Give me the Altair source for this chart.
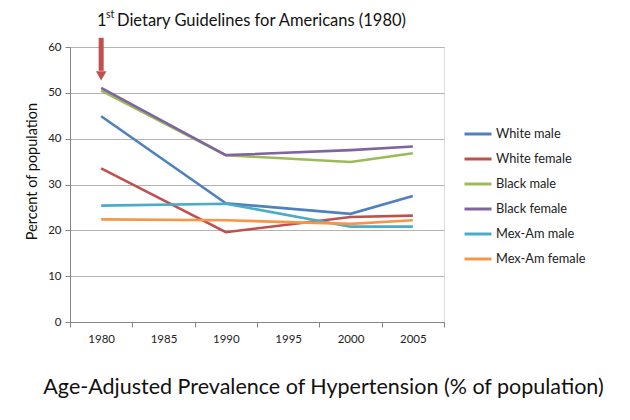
import altair as alt
import pandas as pd

categories = ["1980", "1985", "1990", "1995", "2000", "2005"]
years = ["1980", "1990", "2000", "2005"]
series_names = ["White male", "White female", "Black male", "Black female", "Mex-Am male", "Mex-Am female"]
white_male = [44.9, 25.9, 23.6, 27.5]
white_female = [33.5, 19.6, 22.9, 23.2]
black_male = [50.5, 36.4, 34.9, 36.8]
black_female = [51.1, 36.4, 37.5, 38.3]
mexam_male = [25.4, 25.8, 20.8, 20.8]
mexam_female = [22.4, 22.2, 21.4, 22.2]
colors = ["#4F81BD", "#C0504D", "#9BBB59", "#8064A2", "#4BACC6", "#F79646"]

all_values = [white_male, white_female, black_male, black_female, mexam_male, mexam_female]
rows = []
for name, vals in zip(series_names, all_values):
    for yr, v in zip(years, vals):
        rows.append({"year": yr, "value": v, "series": name})
df = pd.DataFrame(rows)

arrow_df = pd.DataFrame({"year": ["1980"], "top": [62.0], "bottom": [54.8], "tip": [53.7]})

FONT = "Lato"
xscale = alt.Scale(domain=categories, type="band", paddingInner=0, paddingOuter=0)

x_enc = alt.X(
    "year:O",
    scale=xscale,
    axis=alt.Axis(
        title="Age-Adjusted Prevalence of Hypertension (% of population)",
        titleFontSize=21.5, titleFontWeight="normal", titleFont=FONT, titleColor="#111",
        titleX=253, titleY=65, titleBaseline="middle", titleAnchor="middle", titleAlign="center",
        labelAngle=0, labelFontSize=11.5, labelFont=FONT, labelColor="#222", labelPadding=6,
        tickBand="extent", tickSize=5, tickColor="#868686", domainColor="#868686",
        grid=False,
    ),
)

lines = alt.Chart(df).mark_line(strokeWidth=2.6).encode(
    x=x_enc,
    y=alt.Y(
        "value:Q",
        scale=alt.Scale(domain=[0, 60]),
        axis=alt.Axis(
            title="Percent of population", titleFont=FONT, titleFontSize=14.5,
            titleFontWeight="normal", titleColor="#111", titleY=124, titleX=-38,
            titleAlign="center", titleBaseline="middle",
            values=[0, 10, 20, 30, 40, 50, 60], labelFont=FONT, labelFontSize=11.5,
            labelColor="#222", labelPadding=4, tickSize=5, tickColor="#868686",
            domainColor="#868686", gridColor="#B3B3B3", gridWidth=1,
        ),
    ),
    color=alt.Color(
        "series:N",
        scale=alt.Scale(domain=series_names, range=colors),
        sort=series_names,
        legend=alt.Legend(
            title=None, orient="none", legendX=393, legendY=72,
            symbolType="stroke", symbolSize=729, symbolStrokeWidth=3,
            labelFont=FONT, labelFontSize=12.8, labelColor="#222", labelOffset=3,
            rowPadding=3,
        ),
    ),
    detail="series:N",
)

shaft = alt.Chart(arrow_df).mark_rule(color="#C0504D", strokeWidth=5, clip=False).encode(
    x=alt.X("year:O", scale=xscale),
    y="top:Q", y2="bottom:Q",
)
head = alt.Chart(arrow_df).mark_point(
    shape="triangle-down", filled=True, color="#C0504D", size=110, opacity=1, clip=False
).encode(
    x=alt.X("year:O", scale=xscale),
    y="tip:Q",
)

ann_df = pd.DataFrame({"a": [1]})
t1 = alt.Chart(ann_df).mark_text(text="1", font=FONT, fontSize=16.5, align="left", baseline="middle", color="#111").encode(
    x=alt.value(27), y=alt.value(-26))
t2 = alt.Chart(ann_df).mark_text(text="st", font=FONT, fontSize=10.5, align="left", baseline="middle", color="#111").encode(
    x=alt.value(36), y=alt.value(-32))
t3 = alt.Chart(ann_df).mark_text(text="Dietary  Guidelines  for Americans (1980)", font=FONT, fontSize=16.5,
                                 align="left", baseline="middle", color="#111").encode(
    x=alt.value(47), y=alt.value(-26))

chart = alt.layer(lines, shaft, head, t1, t2, t3).properties(
    width=374, height=275,
    autosize=alt.AutoSizeParams(type="none"),
    padding={"left": 62, "top": 39, "right": 170, "bottom": 85},
).configure_view(stroke=None).configure(background="white")

chart.save("out.html", embed_options={"renderer": "svg", "actions": False})
